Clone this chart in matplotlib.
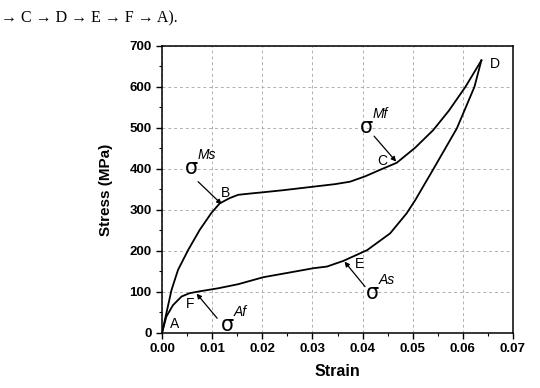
import numpy as np
import matplotlib.pyplot as plt
from matplotlib.ticker import MultipleLocator

plt.rcParams['font.family'] = ['Liberation Sans', 'DejaVu Sans']

# loading branch A -> B -> C -> D
load_strain = [0.0, 0.00087, 0.0019, 0.0032, 0.0052, 0.0075, 0.0098, 0.0115, 0.0135,
               0.0152, 0.0175, 0.0200, 0.0240, 0.0275, 0.0310, 0.0345, 0.0375,
               0.0405, 0.0435, 0.0468, 0.0505, 0.0541, 0.0572, 0.0605, 0.0637]
load_stress = [0, 48, 105, 154, 202, 251, 292, 316, 329,
               337, 340, 343, 348, 353, 358, 363, 369,
               382, 398, 415, 452, 495, 542, 600, 665]

# unloading branch D -> E -> F -> A
unload_strain = [0.0637, 0.0623, 0.0605, 0.0588, 0.0563, 0.0538, 0.0505, 0.0488,
                 0.0455, 0.0409, 0.0362, 0.0329, 0.0302, 0.0275, 0.0202, 0.0152,
                 0.0112, 0.0072, 0.0055, 0.0039, 0.0022, 0.00087, 0.0]
unload_stress = [665, 600, 548, 499, 446, 393, 324, 292,
                 243, 202, 176, 162, 158, 152, 136, 119,
                 109, 101, 97, 89, 68, 40, 0]

# point labels
pt_names = ['A', 'B', 'C', 'D', 'E', 'F']
pt_x = [0.0025, 0.0127, 0.0440, 0.0663, 0.0394, 0.0056]
pt_y = [22, 342, 420, 655, 168, 70]

# transformation stresses: name, sigma position, arrow tail, arrow head
tr_names = ['Ms', 'Mf', 'As', 'Af']
tr_sig = [(0.0059, 402), (0.0407, 502), (0.0420, 98), (0.0131, 20)]
tr_tail = [(0.0072, 369), (0.0423, 480), (0.0405, 113), (0.0110, 36)]
tr_head = [(0.0119, 314), (0.0467, 418), (0.0364, 174), (0.0069, 96)]

fig = plt.figure(figsize=(5.4, 3.88), dpi=100)
ax = fig.add_axes([0.30, 0.1418, 0.65, 0.7397])

ax.plot(load_strain, load_stress, color='black', lw=1.3)
ax.plot(unload_strain, unload_stress, color='black', lw=1.3)

for name, x, y in zip(pt_names, pt_x, pt_y):
    ax.text(x, y, name, fontsize=10, ha='center', va='center')

for name, s, t, h in zip(tr_names, tr_sig, tr_tail, tr_head):
    ax.text(s[0], s[1], '\u03c3', fontsize=15, ha='center', va='center',
            family=['DejaVu Sans'])
    ax.text(s[0] + 0.0012, s[1] + 14, name, fontsize=10, style='italic',
            ha='left', va='bottom')
    ax.annotate('', xy=h, xytext=t,
                arrowprops=dict(arrowstyle='-|>', color='black', lw=0.9,
                                mutation_scale=7, shrinkA=0, shrinkB=0))

ax.set_xlim(0, 0.07)
ax.set_ylim(0, 700)
ax.xaxis.set_major_locator(MultipleLocator(0.01))
ax.xaxis.set_minor_locator(MultipleLocator(0.005))
ax.yaxis.set_major_locator(MultipleLocator(100))
ax.yaxis.set_minor_locator(MultipleLocator(50))
ax.xaxis.set_major_formatter(plt.FormatStrFormatter('%.2f'))
ax.tick_params(which='major', direction='out', length=4, width=1, labelsize=9.5)
ax.tick_params(which='minor', direction='out', length=2.5, width=0.8)
for lab in ax.get_xticklabels() + ax.get_yticklabels():
    lab.set_fontweight('bold')
ax.grid(True, which='major', linestyle=(0, (3, 3)), color='#b0b0b0', lw=0.7)
for sp in ax.spines.values():
    sp.set_linewidth(1.1)

ax.set_xlabel('Strain', fontsize=11.5, fontweight='bold', labelpad=6)
ax.set_ylabel('Stress (MPa)', fontsize=11, fontweight='bold', labelpad=12)

fig.text(0.002, 0.952, '\u2192 C \u2192 D \u2192 E \u2192 F \u2192 A).',
         fontsize=11.5, family=['Liberation Serif', 'DejaVu Serif'], ha='left', va='center')

fig.savefig('out.png', dpi=100)
